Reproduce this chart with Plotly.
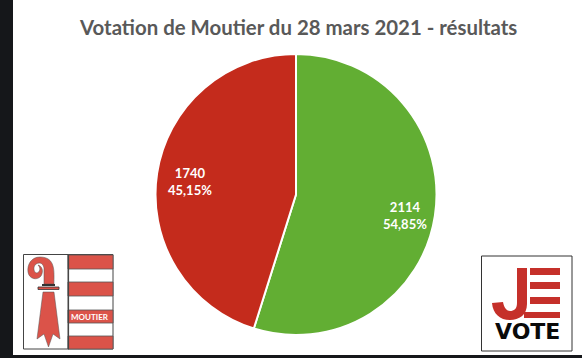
import plotly.graph_objects as go

W, H = 582, 358
categories = ["Oui", "Non"]
votes = [2114, 1740]
percent_labels = ["54,85%", "45,15%"]
colors = ["#62AE33", "#C42B1C"]
label_centers = [(405, 215), (190, 181)]
title_text = "Votation de Moutier du 28 mars 2021 - résultats"

def px(x): return x / W
def py(y): return 1 - y / H

def rect(x0, y0, x1, y1, fill, line=None, lw=0):
    return dict(type="rect", xref="paper", yref="paper", x0=px(x0), x1=px(x1), y0=py(y0), y1=py(y1),
                fillcolor=fill, line=dict(color=line or fill, width=lw), layer="below")

def path(cmds, fill, line=None, lw=0):
    out = []
    for c in cmds:
        if isinstance(c, str):
            out.append(c)
        else:
            out.append(f"{px(c[0]):.5f},{py(c[1]):.5f}")
    return dict(type="path", xref="paper", yref="paper", path=" ".join(out), fillcolor=fill,
                line=dict(color=line or fill, width=lw), layer="below")

def note(text, x, y, font):
    return dict(text=text, x=px(x), y=py(y), xref="paper", yref="paper", showarrow=False,
                xanchor="center", yanchor="middle", font=font)

RED = "#DB5349"
shapes = [rect(13, 0, 582, 355, "white")]
# Moutier coat of arms
shapes.append(rect(23.5, 254.5, 113, 349, "white", "#444444", 1))
for y0, y1 in [(255, 269), (282, 296), (310, 323), (336, 349)]:
    shapes.append(rect(68, y0, 113, y1, RED, "#555555", 0.8))
shapes.append(rect(68, 255, 68.6, 349, "#444444", "#444444", 1))
# crozier
shapes.append(path(["M", (54, 284), "C", (54, 272), (56, 257), (40, 257), "C", (31, 257), (27, 265), (28, 272),
                    "C", (29, 279), (37, 281), (41, 276), "C", (44, 271), (42, 266), (38, 265),
                    "C", (41, 268), (40, 272), (37, 273), "C", (34, 273), (33, 268), (35, 265),
                    "C", (38, 262), (43, 262), (44, 268), "L", (44, 284), "Z"], RED, "#555555", 0.5))
shapes.append(rect(38, 287, 59, 289.5, RED, "#333333", 0.8))
shapes.append(rect(42, 284, 55, 286, "#333333"))
shapes.append(path(["M", (43, 292), "L", (54, 292), "L", (60, 339), "L", (53, 334), "L", (48.5, 347),
                    "L", (44, 334), "L", (37, 339), "Z"], RED, "#555555", 0.5))
# JE VOTE logo
shapes.append(rect(481.5, 256, 572, 351, "white", "#333333", 1))
LOGO = "#C5302A"
for x0, y0, x1, y1 in [(530, 268, 560, 275), (530, 282, 560, 289), (530, 297, 560, 304), (524, 312, 560, 318)]:
    shapes.append(rect(x0, y0, x1, y1, LOGO))
shapes.append(path(["M", (517, 268), "L", (527, 268), "L", (527, 304),
                    "C", (527, 315), (519, 320), (510, 320), "C", (500, 320), (493, 314), (492, 303),
                    "L", (503, 302), "C", (504, 308), (507, 311), (510, 311), "C", (514, 311), (517, 309), (517, 303), "Z"], LOGO))

fig = go.Figure(go.Pie(
    labels=categories, values=votes, textinfo="none",
    marker=dict(colors=colors, line=dict(color="white", width=2)),
    sort=False, direction="clockwise", rotation=0, showlegend=False,
    domain=dict(x=[px(154), px(438)], y=[py(335), py(54)]),
))
slice_font = dict(family="Lato", size=13, color="white", weight="bold")
fig.update_layout(
    width=W, height=H, margin=dict(l=0, r=0, t=0, b=0), paper_bgcolor="#15171A",
    shapes=shapes,
    annotations=[
        note(title_text, 298, 27, dict(family="Lato", size=20.4, color="#595959", weight="bold")),
        note("MOUTIER", 90, 316.5, dict(family="Lato", size=8, color="white", weight="bold")),
        note("VOTE", 527, 331, dict(family="DejaVu Sans", size=22, color="#0A0A0A", weight="bold")),
    ] + [note(f"{v}<br>{p}", c[0], c[1], slice_font) for v, p, c in zip(votes, percent_labels, label_centers)],
)
fig.write_html("out.html", config=dict(displayModeBar=False),
               post_script="document.body.style.margin='0';document.body.style.background='#15171A';document.documentElement.style.overflow='hidden';")
